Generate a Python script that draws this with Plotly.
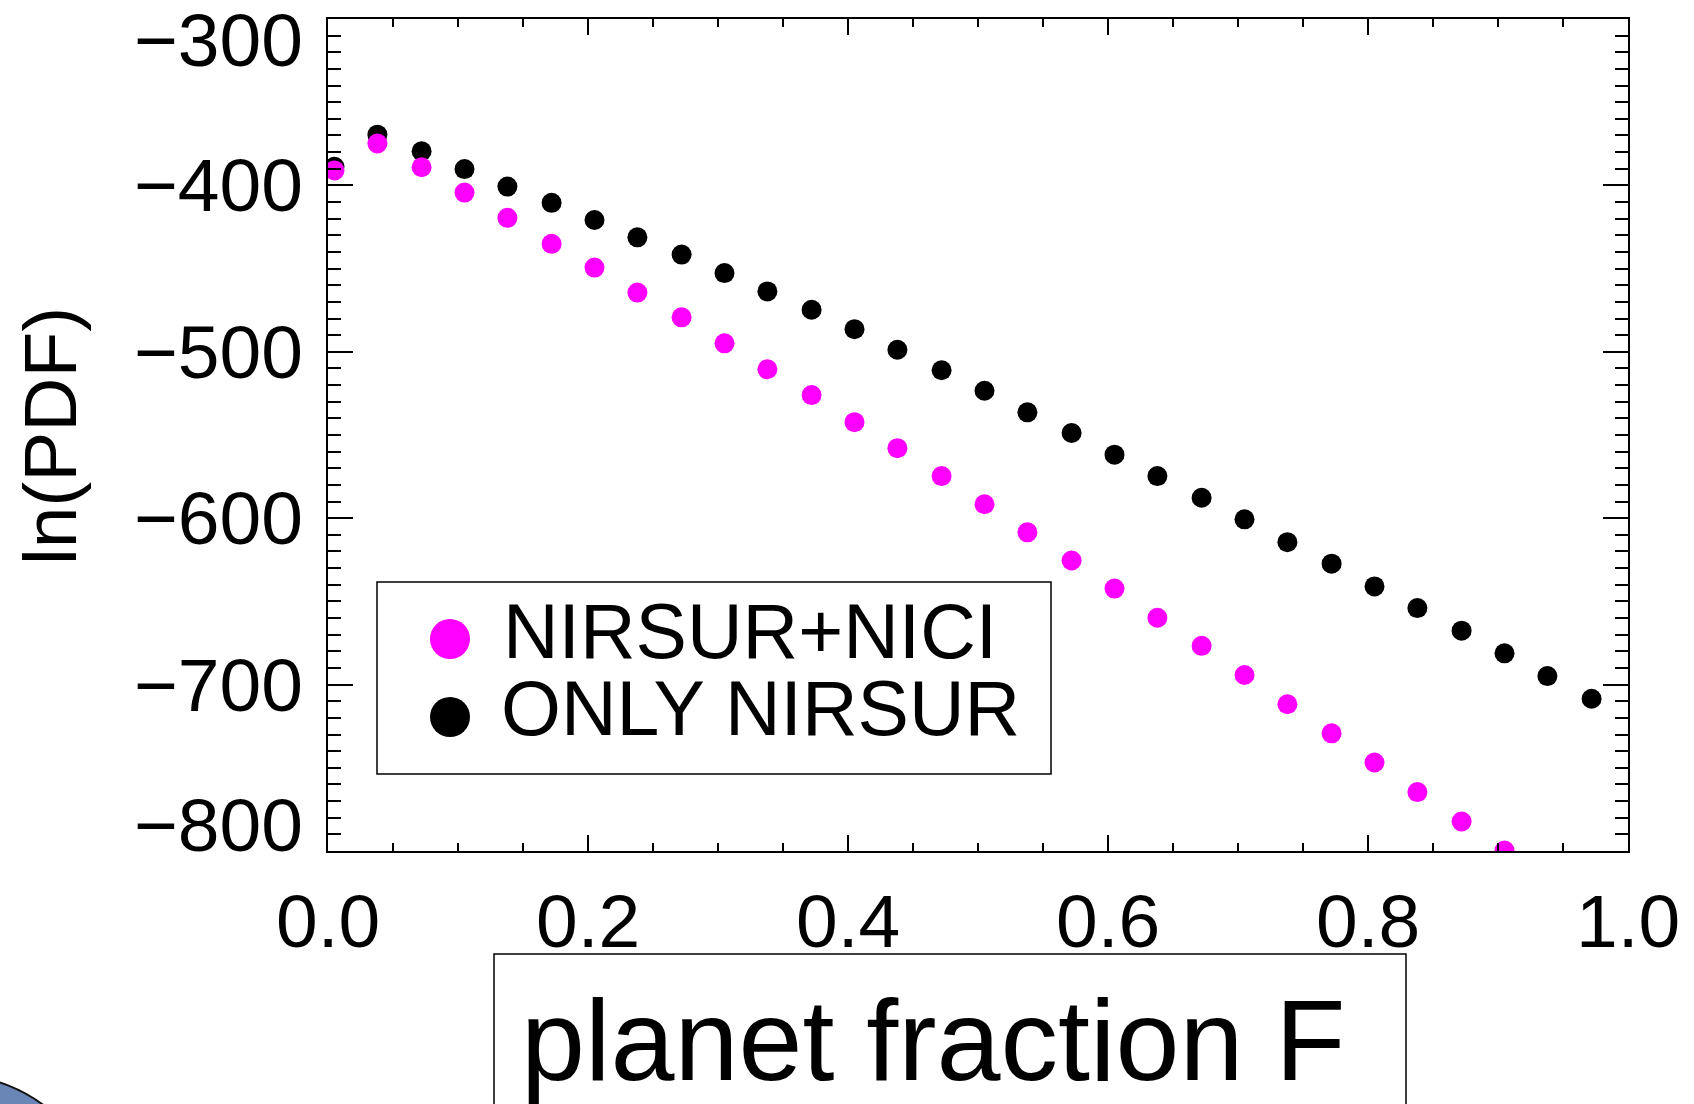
import plotly.graph_objects as go

# ---------------- data ----------------
frac = [0.005, 0.038, 0.072, 0.105, 0.138, 0.172, 0.205, 0.238, 0.272, 0.305,
        0.338, 0.372, 0.405, 0.438, 0.472, 0.505, 0.538, 0.572, 0.605, 0.638,
        0.672, 0.705, 0.738, 0.772, 0.805, 0.838, 0.872, 0.905, 0.938, 0.972]

lnpdf_nirsur_nici = [-391.0, -374.8, -389.1, -404.3, -419.5, -435.1, -449.4, -464.4,
                     -479.3, -494.9, -510.5, -526.0, -542.3, -557.9, -574.7, -591.6,
                     -608.5, -625.4, -642.3, -659.8, -676.7, -694.2, -711.8, -729.3,
                     -746.8, -764.6, -782.3, -799.7]

lnpdf_only_nirsur = [-388.8, -369.5, -379.5, -390.2, -400.7, -410.5, -420.8, -431.2,
                     -441.6, -452.7, -463.7, -474.7, -486.4, -498.8, -511.1, -523.4,
                     -536.4, -548.8, -561.8, -574.7, -587.7, -600.7, -614.4, -627.3,
                     -641.0, -654.0, -667.6, -681.2, -694.9, -708.5]

series_names = ["NIRSUR+NICI", "ONLY NIRSUR"]
series_colors = ["#FF00FF", "#000000"]

x_tick_vals = [0.0, 0.2, 0.4, 0.6, 0.8, 1.0]
x_tick_text = ["0.0", "0.2", "0.4", "0.6", "0.8", "1.0"]
y_tick_vals = [-300, -400, -500, -600, -700, -800]
y_tick_text = ["\u2212300", "\u2212400", "\u2212500", "\u2212600", "\u2212700", "\u2212800"]

x_title = "planet fraction F"
y_title = "ln(PDF)"

# ---------------- layout geometry (pixels) ----------------
W, H = 1694, 1104
L, R, T, B = 328, 1628, 19, 851
PW, PH = R - L, B - T
FONT = "Liberation Sans, Arial, Helvetica, sans-serif"


def px(xp):
    return (xp - L) / PW


def py(yp):
    return (B - yp) / PH


fig = go.Figure()

fig.add_trace(go.Scatter(x=frac[:len(lnpdf_only_nirsur)], y=lnpdf_only_nirsur, mode="markers",
                         name=series_names[1],
                         marker=dict(color=series_colors[1], size=20, line=dict(width=0)),
                         showlegend=False, cliponaxis=True))
fig.add_trace(go.Scatter(x=frac[:len(lnpdf_nirsur_nici)], y=lnpdf_nirsur_nici, mode="markers",
                         name=series_names[0],
                         marker=dict(color=series_colors[0], size=20, line=dict(width=0)),
                         showlegend=False, cliponaxis=True))

annotations = []
# y tick labels
for v, t in zip(y_tick_vals, y_tick_text):
    ys = 0
    if v == -300:
        ys = -21
    elif v == -800:
        ys = 26
    annotations.append(dict(x=0, xref="paper", y=v, yref="y", text=t, showarrow=False,
                            xanchor="right", yanchor="middle", xshift=-23, yshift=ys,
                            font=dict(family=FONT, size=75, color="black")))
# x tick labels
for v, t in zip(x_tick_vals, x_tick_text):
    annotations.append(dict(x=v, xref="x", y=0, yref="paper", text=t, showarrow=False,
                            xanchor="center", yanchor="middle", yshift=-70,
                            font=dict(family=FONT, size=75, color="black")))
# axis titles
annotations.append(dict(x=px(50), xref="paper", y=py(436), yref="paper", text=y_title,
                        showarrow=False, textangle=-90, xanchor="center", yanchor="middle",
                        font=dict(family=FONT, size=75, color="black")))
annotations.append(dict(x=px(933), xref="paper", y=py(1040), yref="paper", text=x_title,
                        showarrow=False, xanchor="center", yanchor="middle",
                        font=dict(family=FONT, size=115, color="black")))
# legend texts
annotations.append(dict(x=px(501), xref="paper", y=py(631), yref="paper", text=series_names[0],
                        showarrow=False, xanchor="left", yanchor="middle",
                        font=dict(family=FONT, size=77, color="black")))
annotations.append(dict(x=px(499), xref="paper", y=py(708), yref="paper", text=series_names[1],
                        showarrow=False, xanchor="left", yanchor="middle",
                        font=dict(family=FONT, size=77, color="black")))

shapes = [
    # legend box
    dict(type="rect", xref="paper", yref="paper", x0=px(377), x1=px(1051), y0=py(582), y1=py(774),
         line=dict(color="black", width=1.5), fillcolor="rgba(0,0,0,0)", layer="above"),
    # legend markers
    dict(type="circle", xref="paper", yref="paper", x0=px(430), x1=px(470), y0=py(619), y1=py(659),
         line=dict(width=0), fillcolor=series_colors[0], layer="above"),
    dict(type="circle", xref="paper", yref="paper", x0=px(430), x1=px(470), y0=py(697), y1=py(737),
         line=dict(width=0), fillcolor=series_colors[1], layer="above"),
    # x-title box
    dict(type="rect", xref="paper", yref="paper", x0=px(494), x1=px(1406), y0=py(954), y1=py(1130),
         line=dict(color="black", width=1.5), fillcolor="rgba(0,0,0,0)", layer="above"),
    # blue decoration at bottom-left corner
    dict(type="circle", xref="paper", yref="paper", x0=px(-47 - 151), x1=px(-47 + 151),
         y0=py(1226 - 151), y1=py(1226 + 151),
         line=dict(color="#111111", width=2), fillcolor="#6a86b6", layer="above"),
]

fig.update_layout(
    width=W, height=H, autosize=False,
    margin=dict(l=L, r=W - R, t=T, b=H - B, pad=0),
    paper_bgcolor="white", plot_bgcolor="white",
    showlegend=False,
    annotations=annotations,
    shapes=shapes,
    font=dict(family=FONT, color="black"),
)

fig.update_xaxes(range=[0, 1], showgrid=False, zeroline=False,
                 showline=True, linecolor="black", linewidth=1.5, mirror="ticks",
                 ticks="inside", tickmode="array", tickvals=x_tick_vals, ticklen=16,
                 tickwidth=1.5, tickcolor="black", showticklabels=False,
                 minor=dict(dtick=0.05, tick0=0, ticks="inside", ticklen=8, tickwidth=1.5,
                            tickcolor="black", showgrid=False))
fig.update_yaxes(range=[-800, -300], showgrid=False, zeroline=False,
                 showline=True, linecolor="black", linewidth=1.5, mirror="ticks",
                 ticks="inside", tickmode="array", tickvals=y_tick_vals, ticklen=25,
                 tickwidth=1.5, tickcolor="black", showticklabels=False,
                 minor=dict(dtick=10, tick0=-800, ticks="inside", ticklen=13, tickwidth=1.5,
                            tickcolor="black", showgrid=False))

fig.write_html("out.html")
